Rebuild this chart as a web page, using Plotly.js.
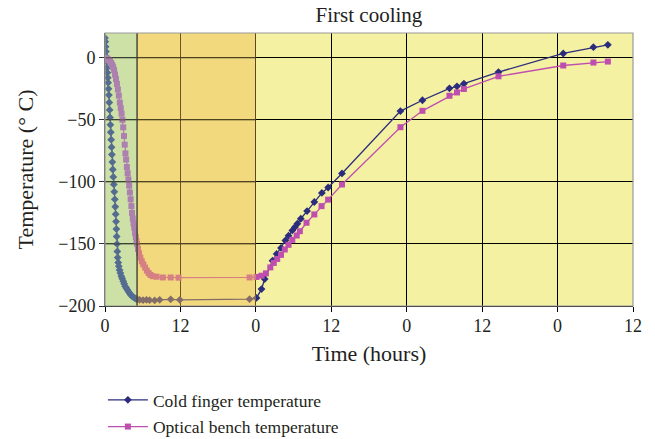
<!DOCTYPE html>
<html>
<head>
<meta charset="utf-8">
<script src="https://cdn.plot.ly/plotly-3.0.1.min.js"></script>
<style>html,body{margin:0;padding:0;background:#fff;}#chart{width:655px;height:439px;}</style>
</head>
<body>
<div id="chart"></div>
<script>
// Time in hours from start; tick labels show hour of day
const tickHours = [0, 12, 24, 36, 48, 60, 72, 84];
const tickLabels = ['0', '12', '0', '12', '0', '12', '0', '12'];
const yTicks = [0, -50, -100, -150, -200];
const yTickLabels = ['0', '−50', '−100', '−150', '−200'];

const coldTime = [0.00,0.05,0.10,0.15,0.20,0.26,0.32,0.38,0.44,0.50,0.56,0.62,0.68,0.74,0.80,0.86,0.92,0.98,1.04,1.10,1.17,1.24,1.32,1.40,1.48,1.56,1.63,1.70,1.76,1.81,1.86,1.91,1.96,2.02,2.10,2.20,2.32,2.45,2.60,2.75,2.90,3.05,3.20,3.38,3.56,3.75,3.95,4.15,4.35,4.55,4.75,4.95,5.10,5.50,6.05,6.60,7.10,7.90,8.70,10.45,11.90,23.0,24.1,24.9,25.4,26.65,27.3,28.0,28.7,29.2,29.8,30.2,30.6,31.15,32.15,33.3,34.5,35.5,37.7,47.0,50.5,54.8,56.0,57.1,62.6,72.9,77.7,80.0];
const coldTemp = [16,13,9,5,1,-3,-8,-12,-16,-20,-25,-30,-36,-42,-48,-54,-60,-66,-72,-78,-84,-90,-96,-102,-108,-114,-120,-126,-132,-138,-144,-150,-156,-161,-165,-168,-171,-173.5,-176,-178,-180,-182,-184,-185.5,-187,-188.5,-190,-191.3,-192.3,-193,-193.6,-194.2,-194.5,-195,-195.3,-195,-195.3,-195.5,-195,-194.6,-195,-194.5,-193.5,-186.4,-178.3,-163.5,-158,-153.2,-147.2,-143.4,-139.1,-136.5,-133.7,-129.7,-123.5,-116.2,-108.9,-104.5,-93.2,-42.9,-34.2,-24.6,-23.0,-20.8,-11.5,3.5,8.6,10.5];

const benchTime = [0.00,0.20,0.40,0.60,0.80,1.00,1.15,1.30,1.45,1.60,1.75,1.90,2.05,2.20,2.36,2.50,2.64,2.77,2.90,3.02,3.14,3.25,3.36,3.48,3.60,3.72,3.84,3.96,4.08,4.20,4.30,4.42,4.54,4.66,4.78,4.90,5.00,5.10,5.25,5.42,5.62,5.85,6.10,6.38,6.66,6.95,7.25,7.60,8.20,9.20,10.45,11.70,23.0,24.1,24.9,25.6,26.3,26.85,27.4,28.0,28.6,29.2,29.8,30.5,31.0,32.06,33.3,34.45,35.5,37.7,47.0,50.5,54.8,56.0,57.1,62.6,72.9,77.7,80.0];
const benchTemp = [0,-0.4,-1,-1.8,-2.8,-4.2,-5.8,-7.6,-10,-13.5,-17,-21,-25.5,-30.5,-36,-40.5,-45,-50,-56,-63,-70,-77,-82,-88,-93,-98,-103,-108.5,-114,-119.5,-125,-129.5,-133.5,-137,-141,-144.5,-147.5,-150,-154,-157.5,-161,-164,-166.5,-169,-171.5,-173.5,-175,-176,-176.4,-177,-177,-177.2,-177,-176.6,-175.6,-173.7,-168.9,-165.3,-162.1,-158.8,-154.5,-150.7,-146.7,-143.2,-139.7,-132.9,-126.2,-119.5,-114.3,-102.1,-55.9,-42.7,-30.6,-27.9,-25.1,-14.9,-6.2,-3.8,-3.0];

// phase boundaries (hours)
const phaseEdges = [0, 5.1, 24];

const serif = 'Liberation Serif, Times New Roman, serif';
const txt = '#231f20';
const navy = '#2B2D7C';
const magenta = '#BF4FAF';

const traces = [
  {x: coldTime, y: coldTemp, name: 'Cold finger temperature', mode: 'lines+markers',
   legendgroup: 'a',
   line: {color: navy, width: 1.3}, marker: {symbol: 'diamond', size: 6, color: navy}},
  {x: benchTime, y: benchTemp, name: 'Optical bench temperature', mode: 'lines+markers',
   legendgroup: 'b',
   line: {color: magenta, width: 1.3}, marker: {symbol: 'square', size: 6, color: magenta}}
];

const shapes = [
  {type: 'rect', xref: 'x', yref: 'paper', x0: phaseEdges[0], x1: phaseEdges[1], y0: 0, y1: 1,
   fillcolor: 'rgb(146,203,175)', opacity: 0.4, line: {width: 0}, layer: 'above'},
  {type: 'rect', xref: 'x', yref: 'paper', x0: phaseEdges[1], x1: phaseEdges[2], y0: 0, y1: 1,
   fillcolor: 'rgb(241,188,80)', opacity: 0.45, line: {width: 0}, layer: 'above'},
  {type: 'line', xref: 'x', yref: 'paper', x0: phaseEdges[1], x1: phaseEdges[1], y0: 0, y1: 1,
   line: {color: '#4a4a3a', width: 1.5}, layer: 'above'}
];
// darker horizontal gridlines through shaded zones
yTicks.slice(0, 4).forEach(v => shapes.push({type: 'line', xref: 'x', yref: 'y', x0: phaseEdges[0], x1: phaseEdges[2], y0: v, y1: v,
  line: {color: 'rgba(50,50,30,0.75)', width: 1}, layer: 'above'}));
shapes.push({type: 'rect', xref: 'paper', yref: 'paper', x0: 0, x1: 1, y0: 0, y1: 1,
  line: {color: '#9a9a9a', width: 1.2}, layer: 'above'});

const layout = {
  width: 655, height: 439,
  margin: {l: 105, r: 22, t: 33, b: 133, autoexpand: false},
  paper_bgcolor: '#ffffff',
  plot_bgcolor: '#F5F1A2',
  font: {family: serif, size: 18, color: txt},
  title: {text: 'First cooling', font: {family: serif, size: 21, color: txt},
          xref: 'paper', x: 0.5, xanchor: 'center', yref: 'container', y: 0.967, yanchor: 'middle'},
  xaxis: {range: [0, 84], tickvals: tickHours, ticktext: tickLabels,
          showgrid: true, gridcolor: '#000000', gridwidth: 1,
          showline: true, linecolor: '#000000', linewidth: 1.2,
          ticks: 'outside', ticklen: 5, tickcolor: '#000', zeroline: false,
          ticklabelstandoff: -2,
          tickfont: {family: serif, size: 18, color: txt},
          title: {text: 'Time (hours)', font: {family: serif, size: 22, color: txt}, standoff: 10}},
  yaxis: {range: [-200, 20], tickvals: yTicks, ticktext: yTickLabels,
          showgrid: true, gridcolor: '#000000', gridwidth: 1,
          showline: true, linecolor: '#555555', linewidth: 1,
          ticks: 'outside', ticklen: 5, tickcolor: '#333', zeroline: false,
          tickfont: {family: serif, size: 18, color: txt},
          title: {text: 'Temperature (° C)', font: {family: serif, size: 22, color: txt}, standoff: 18}},
  showlegend: true,
  legend: {x: -0.004, xref: 'paper', xanchor: 'left', yref: 'container', y: 0.13, yanchor: 'top', orientation: 'v',
           traceorder: 'grouped', tracegroupgap: 1, itemwidth: 40,
           font: {family: serif, size: 17.5, color: txt}, bgcolor: 'rgba(0,0,0,0)'},
  shapes: shapes
};

Plotly.newPlot('chart', traces, layout, {displayModeBar: false, staticPlot: true});
</script>
</body>
</html>
